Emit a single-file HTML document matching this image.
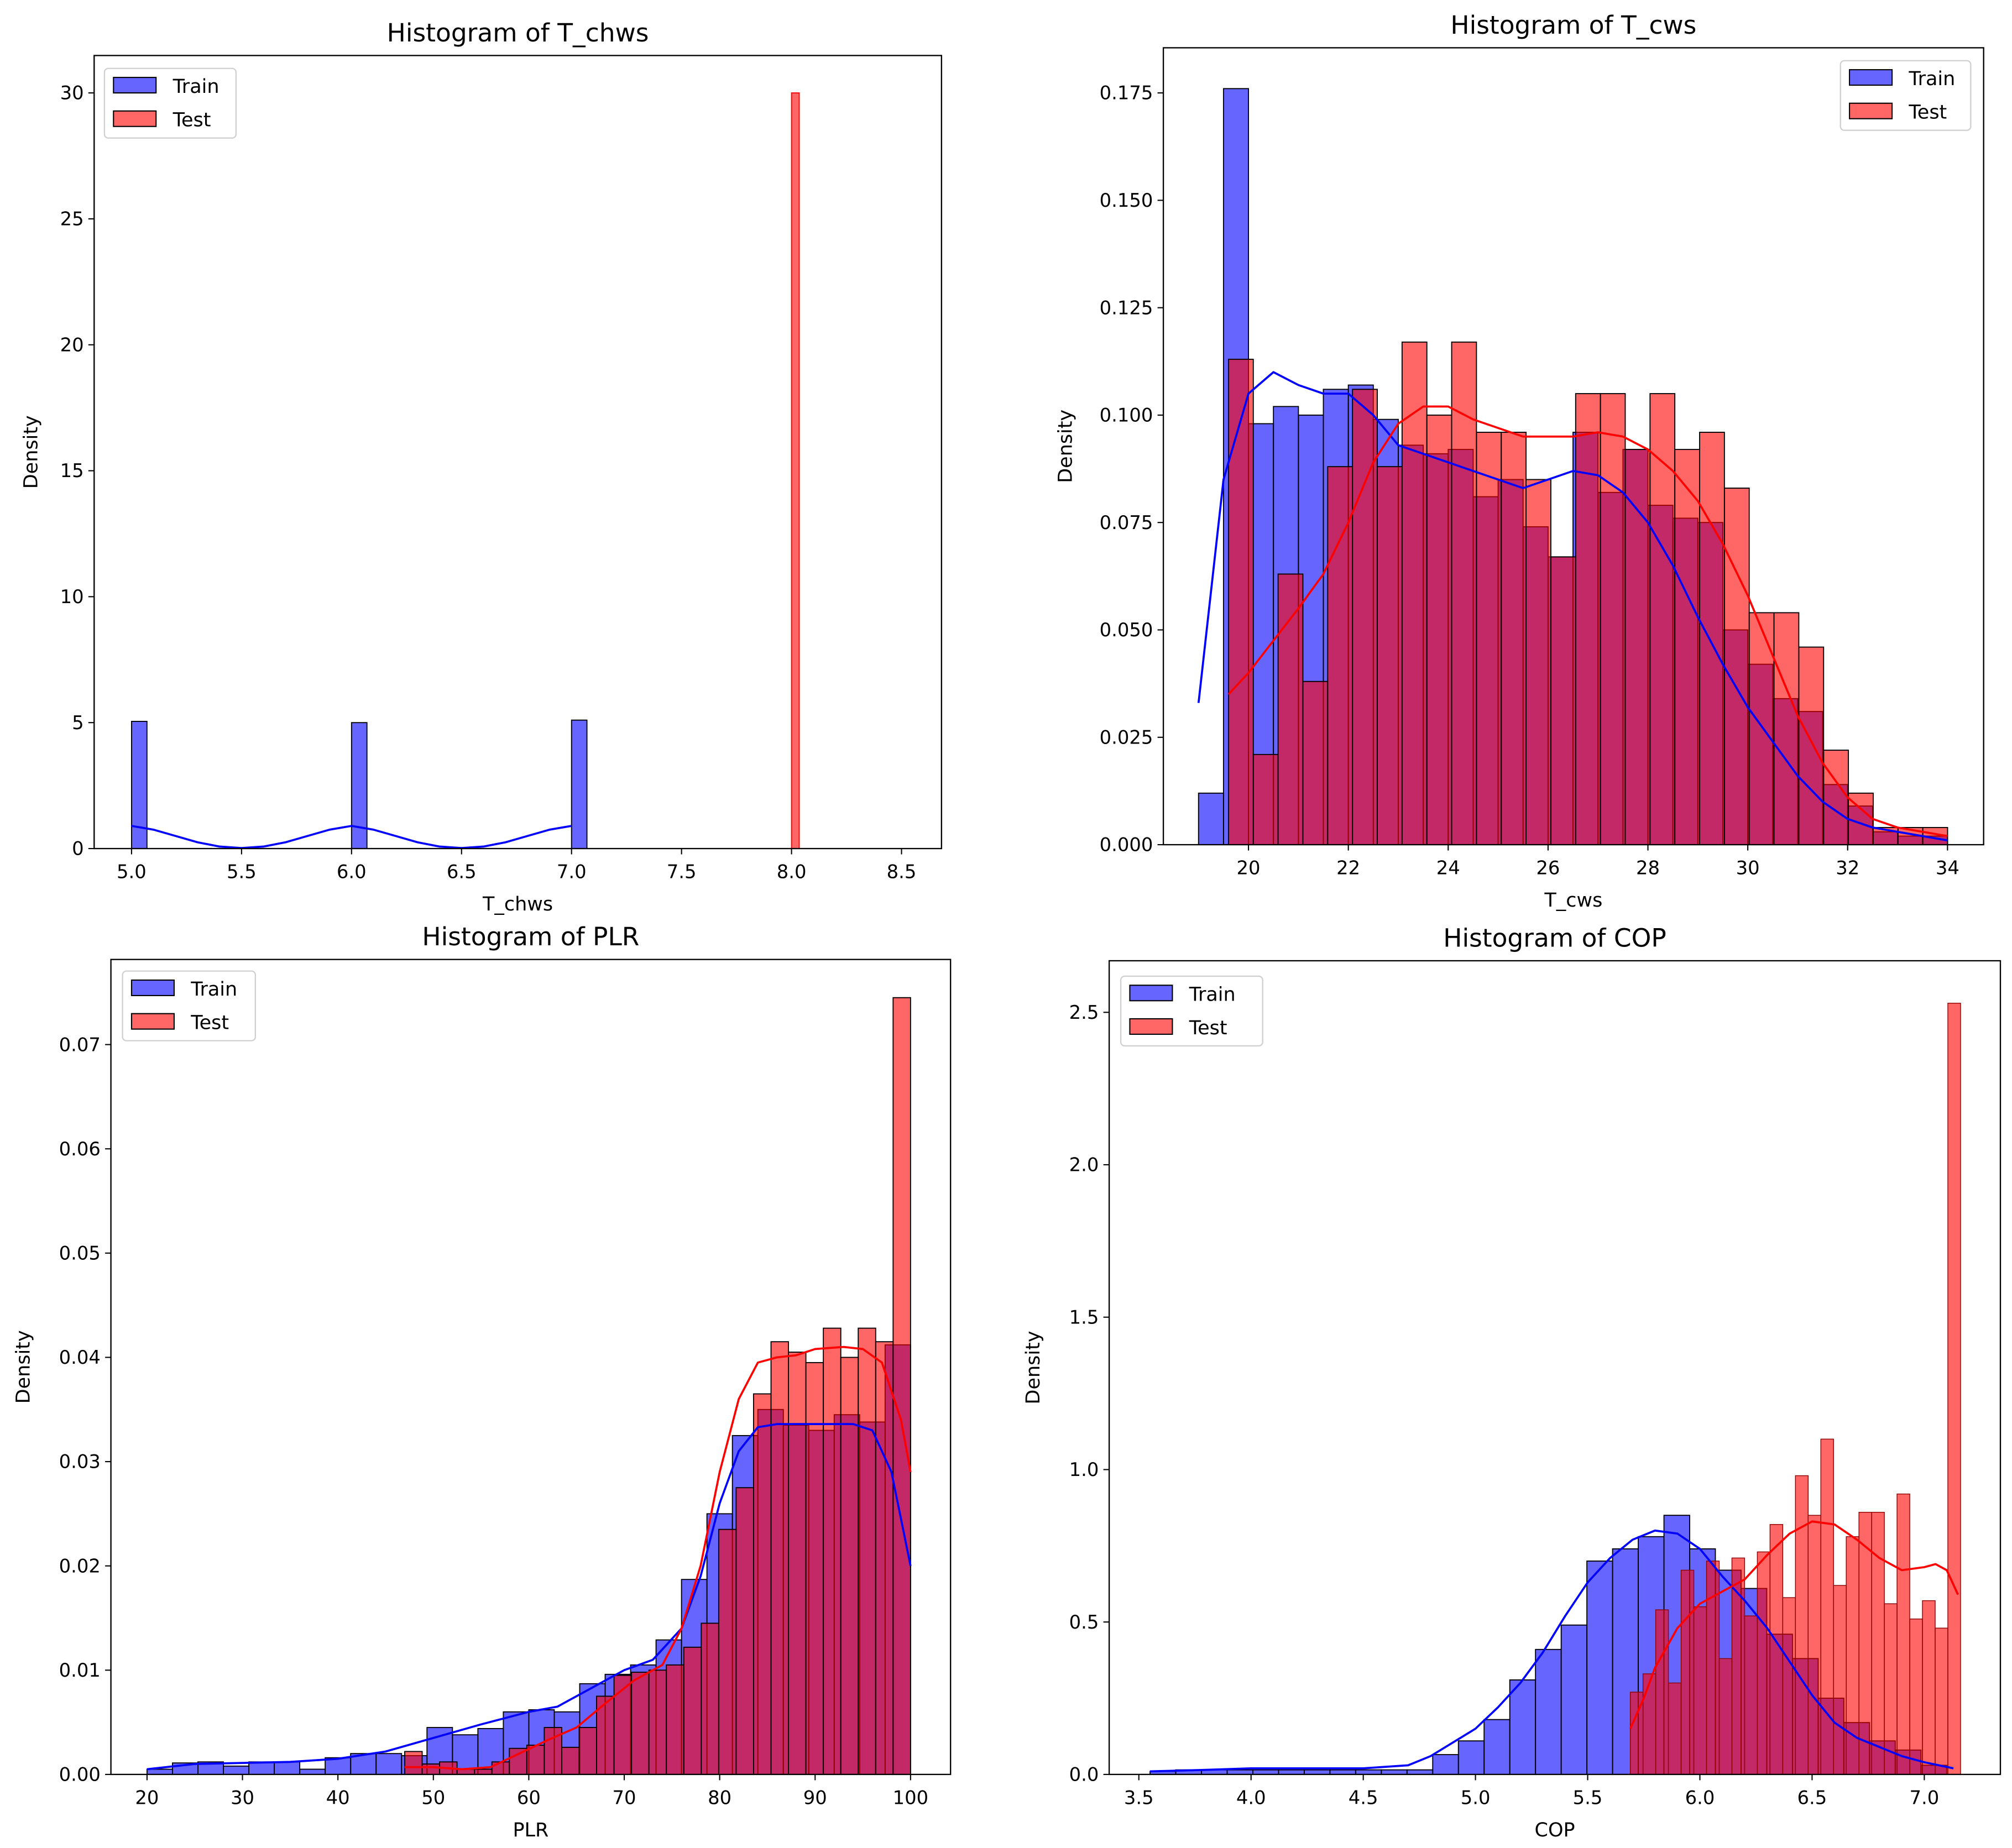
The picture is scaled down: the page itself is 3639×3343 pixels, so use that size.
<!DOCTYPE html>
<html><head><meta charset="utf-8">
<style>
html,body{margin:0;padding:0;background:#fff;}
svg{display:block;font-family:"DejaVu Sans","Liberation Sans",sans-serif;}
</style></head>
<body>
<svg id="fig" width="3639" height="3343" viewBox="0 0 1560 1433" xmlns="http://www.w3.org/2000/svg">
<rect width="1560" height="1433" fill="#fff"/>
</svg>
<script>
// ---------- Panel 1: T_chws ----------
const chwsTrainStart = [5.0, 6.0, 7.0];
const chwsTrainWidth = 0.07;
const chwsTrainValues = [5.05, 5.0, 5.1];
const chwsTestStart = [8.0];
const chwsTestWidth = 0.035;
const chwsTestValues = [30.0];
const chwsKdeX = [5.0,5.1,5.2,5.3,5.4,5.5,5.6,5.7,5.8,5.9,6.0,6.1,6.2,6.3,6.4,6.5,6.6,6.7,6.8,6.9,7.0];
const chwsKdeY = [0.9,0.75,0.5,0.25,0.08,0.02,0.08,0.25,0.5,0.75,0.9,0.75,0.5,0.25,0.08,0.02,0.08,0.25,0.5,0.75,0.9];
const chwsXTicks = [5.0,5.5,6.0,6.5,7.0,7.5,8.0,8.5];
const chwsYTicks = [0,5,10,15,20,25,30];

// ---------- Panel 2: T_cws ----------
const cwsTrainStart = 19.0, cwsTrainWidth = 0.5;
const cwsTrainValues = [0.012,0.176,0.098,0.102,0.100,0.106,0.107,0.099,0.093,0.091,0.092,0.081,0.085,0.074,0.067,0.096,0.082,0.092,0.079,0.076,0.075,0.050,0.042,0.034,0.031,0.014,0.009,0.003,0.002,0.002];
const cwsTestStart = 19.6, cwsTestWidth = 0.4966;
const cwsTestValues = [0.113,0.021,0.063,0.038,0.088,0.106,0.088,0.117,0.100,0.117,0.096,0.096,0.085,0.067,0.105,0.105,0.092,0.105,0.092,0.096,0.083,0.054,0.054,0.046,0.022,0.012,0.004,0.004,0.004];
const cwsKdeTrainX = [19,19.5,20,20.5,21,21.5,22,22.5,23,23.5,24,24.5,25,25.5,26,26.5,27,27.5,28,28.5,29,29.5,30,30.5,31,31.5,32,32.5,33,34];
const cwsKdeTrainY = [0.033,0.085,0.105,0.110,0.107,0.105,0.105,0.100,0.093,0.091,0.089,0.087,0.085,0.083,0.085,0.087,0.086,0.082,0.075,0.065,0.053,0.042,0.032,0.024,0.016,0.010,0.006,0.004,0.003,0.001];
const cwsKdeTestX = [19.6,20,21,21.5,22,22.5,23,23.5,24,24.5,25,25.5,26,26.5,27,27.5,28,28.5,29,29.5,30,30.5,31,31.5,32,32.5,33,34];
const cwsKdeTestY = [0.035,0.040,0.055,0.063,0.075,0.089,0.098,0.102,0.102,0.099,0.097,0.095,0.095,0.095,0.096,0.095,0.092,0.087,0.080,0.070,0.058,0.044,0.030,0.019,0.011,0.006,0.004,0.002];
const cwsXTicks = [20,22,24,26,28,30,32,34];
const cwsYTicks = [0,0.025,0.05,0.075,0.1,0.125,0.15,0.175];

// ---------- Panel 3: PLR ----------
const plrTrainStart = 20, plrTrainWidth = 2.6667;
const plrTrainValues = [0.0005,0.0011,0.0012,0.0008,0.0012,0.0012,0.0005,0.0016,0.0020,0.0020,0.0018,0.0045,0.0038,0.0044,0.0060,0.0062,0.0060,0.0087,0.0096,0.0105,0.0129,0.0187,0.0250,0.0325,0.0350,0.0335,0.0330,0.0345,0.0338,0.0412];
const plrTestStart = 47, plrTestWidth = 1.8276;
const plrTestValues = [0.0022,0.0010,0.0012,0.0005,0.0005,0.0012,0.0025,0.0028,0.0045,0.0026,0.0045,0.0075,0.0095,0.0098,0.0100,0.0105,0.0122,0.0145,0.0235,0.0275,0.0365,0.0415,0.0405,0.0395,0.0428,0.0400,0.0428,0.0415,0.0745];
const plrKdeTrainX = [20,25,30,35,40,45,50,55,60,63,66,70,73,76,78,80,82,84,86,90,94,96,98,100];
const plrKdeTrainY = [0.0005,0.0010,0.0011,0.0012,0.0015,0.0022,0.0035,0.0048,0.0060,0.0065,0.0080,0.0100,0.0110,0.0140,0.0190,0.0260,0.0310,0.0333,0.0336,0.0336,0.0336,0.0330,0.0290,0.0200];
const plrKdeTestX = [47,50,53,56,59,62,65,68,71,74,76,78,80,82,84,86,88,90,93,95,97,99,100];
const plrKdeTestY = [0.0007,0.0007,0.0005,0.0007,0.0020,0.0033,0.0045,0.0068,0.0090,0.0105,0.0140,0.0200,0.0290,0.0360,0.0395,0.0400,0.0402,0.0408,0.0410,0.0408,0.0395,0.0340,0.0290];
const plrXTicks = [20,30,40,50,60,70,80,90,100];
const plrYTicks = [0,0.01,0.02,0.03,0.04,0.05,0.06,0.07];

// ---------- Panel 4: COP ----------
const copTrainStart = 3.55, copTrainWidth = 0.1145;
const copTrainValues = [0.010,0.015,0.015,0.015,0.015,0.015,0.015,0.015,0.015,0.015,0.015,0.065,0.11,0.18,0.31,0.41,0.49,0.70,0.74,0.78,0.85,0.74,0.67,0.61,0.46,0.38,0.25,0.17,0.11,0.08,0.03];
const copTestStart = 5.69, copTestWidth = 0.0566;
const copTestValues = [0.27,0.33,0.54,0.30,0.67,0.55,0.70,0.38,0.71,0.52,0.73,0.82,0.58,0.98,0.85,1.10,0.62,0.78,0.86,0.86,0.56,0.92,0.51,0.57,0.48,2.53];
const copKdeTrainX = [3.55,3.8,4.0,4.5,4.7,4.8,5.0,5.1,5.2,5.3,5.4,5.5,5.6,5.7,5.8,5.9,6.0,6.1,6.2,6.3,6.4,6.5,6.6,6.7,6.8,6.9,7.0,7.13];
const copKdeTrainY = [0.01,0.015,0.02,0.02,0.03,0.06,0.15,0.22,0.30,0.40,0.52,0.63,0.71,0.77,0.80,0.79,0.74,0.65,0.57,0.48,0.37,0.26,0.17,0.12,0.09,0.06,0.04,0.02];
const copKdeTestX = [5.69,5.75,5.8,5.9,6.0,6.1,6.2,6.3,6.4,6.5,6.6,6.7,6.8,6.9,7.0,7.05,7.1,7.15];
const copKdeTestY = [0.15,0.25,0.35,0.48,0.56,0.60,0.64,0.72,0.79,0.83,0.82,0.77,0.71,0.67,0.68,0.69,0.67,0.59];
const copXTicks = [3.5,4.0,4.5,5.0,5.5,6.0,6.5,7.0];
const copYTicks = [0,0.5,1.0,1.5,2.0,2.5];

const NS = "http://www.w3.org/2000/svg";
const fig = document.getElementById('fig');
function mk(tag, attrs, parent){
  const e = document.createElementNS(NS, tag);
  for (const k in attrs) e.setAttribute(k, attrs[k]);
  (parent||fig).appendChild(e);
  return e;
}

function panel(p){
  const g = mk('g', {});
  
  
  const sx = v => p.xp0 + (v - p.xv0) * (p.xp1 - p.xp0) / (p.xv1 - p.xv0);
  const sy = v => p.B - v * (p.B - p.yp1) / p.yv1;
  const drawBars = (start, width, vals, fill, edge, ew, nm) => {
    const starts = Array.isArray(start) ? start : vals.map((_, i) => start + i * width);
    vals.forEach((v, i) => {
      const xa = sx(starts[i]), xb = sx(starts[i] + width);
      const r = mk('rect', {x: xa, y: sy(v), width: Math.max(xb - xa, 0.5), height: sy(0) - sy(v),
        fill: fill, 'fill-opacity': 0.6, stroke: edge, 'stroke-width': ew}, g);
      
      
    });
  };
  drawBars(p.trS, p.trW, p.trV, '#0000ff', '#000', 0.8, 'train');
  drawBars(p.teS, p.teW, p.teV, '#ff0000', p.teEdge || '#000', p.tew || 0.8, 'test');
  const line = (xs, ys, col, nm) => {
    const d = xs.map((x, i) => (i ? 'L' : 'M') + sx(x).toFixed(2) + ' ' + sy(ys[i]).toFixed(2)).join(' ');
    const l = mk('path', {d: d, fill: 'none', stroke: col, 'stroke-width': 1.6, 'stroke-linejoin': 'round'}, g);
    
    
  };
  if (p.kTrX) line(p.kTrX, p.kTrY, '#0000ff', 'train-kde-line');
  if (p.kTeX) line(p.kTeX, p.kTeY, '#ff0000', 'test-kde-line');
  const fr = mk('rect', {x: p.L, y: p.T, width: p.R - p.L, height: p.B - p.T, fill: 'none', stroke: '#000', 'stroke-width': 1}, g);
  
  
  p.xt.forEach(t => {
    const x = sx(t);
    mk('line', {x1: x, x2: x, y1: p.B, y2: p.B + 4.5, stroke: '#000', 'stroke-width': 0.9}, g);
    const tx = mk('text', {x: x, y: p.B + 23, 'font-size': 14.5, 'text-anchor': 'middle', fill: '#000'}, g);
    tx.textContent = t.toFixed(p.xd);
    
    
  });
  p.yt.forEach(t => {
    const y = sy(t);
    mk('line', {x1: p.L - 4.5, x2: p.L, y1: y, y2: y, stroke: '#000', 'stroke-width': 0.9}, g);
    const tx = mk('text', {x: p.L - 8, y: y + 5, 'font-size': 14.5, 'text-anchor': 'end', fill: '#000'}, g);
    tx.textContent = t.toFixed(p.yd);
    
    
  });
  const ttl = mk('text', {x: (p.L + p.R) / 2, y: p.T - 11, 'font-size': 19.5, 'text-anchor': 'middle'}, g);
  ttl.textContent = 'Histogram of ' + p.label;
  
  
  const xl = mk('text', {x: (p.L + p.R) / 2, y: p.B + 48, 'font-size': 15, 'text-anchor': 'middle'}, g);
  xl.textContent = p.label;
  
  
  const yc = (p.B + p.T) / 2;
  const yl = mk('text', {x: p.ylx, y: yc, 'font-size': 15, 'text-anchor': 'middle', transform: 'rotate(-90 ' + p.ylx + ' ' + yc + ')'}, g);
  yl.textContent = 'Density';
  
  
  const lg = mk('g', {}, g);
  
  
  mk('rect', {x: p.lx, y: p.ly, width: p.lw, height: 54, rx: 3, fill: '#fff', 'fill-opacity': 0.8, stroke: '#d0d0d0', 'stroke-width': 1}, lg);
  [['Train', '#0000ff'], ['Test', '#ff0000']].forEach((e, i) => {
    const eg = mk('g', {}, lg);
    
    
    mk('rect', {x: p.lx + 7, y: p.ly + 7 + i * 26, width: 33, height: 12, fill: e[1], 'fill-opacity': 0.6, stroke: '#000', 'stroke-width': 0.9}, eg);
    const t = mk('text', {x: p.lx + 53, y: p.ly + 19 + i * 26, 'font-size': 15}, eg);
    t.textContent = e[0];
  });
}

panel({name:'t-chws', label:'T_chws', L:73, R:730, T:43, B:658,
  xv0:5.0, xp0:102, xv1:8.5, xp1:699, yv1:30, yp1:72,
  trS:chwsTrainStart, trW:chwsTrainWidth, trV:chwsTrainValues,
  teS:chwsTestStart, teW:chwsTestWidth, teV:chwsTestValues, teEdge:'#ff0000',
  kTrX:chwsKdeX, kTrY:chwsKdeY, xt:chwsXTicks, yt:chwsYTicks, xd:1, yd:0, ylx:29, lx:81, ly:53, lw:102});
panel({name:'t-cws', label:'T_cws', L:902, R:1538, T:37, B:655,
  xv0:20, xp0:968, xv1:34, xp1:1510, yv1:0.175, yp1:72,
  trS:cwsTrainStart, trW:cwsTrainWidth, trV:cwsTrainValues,
  teS:cwsTestStart, teW:cwsTestWidth, teV:cwsTestValues,
  kTrX:cwsKdeTrainX, kTrY:cwsKdeTrainY, kTeX:cwsKdeTestX, kTeY:cwsKdeTestY,
  xt:cwsXTicks, yt:cwsYTicks, xd:0, yd:3, ylx:831, lx:1427, ly:47, lw:101});
panel({name:'plr', label:'PLR', L:86, R:737, T:744, B:1376,
  xv0:20, xp0:114, xv1:100, xp1:706, yv1:0.07, yp1:810,
  trS:plrTrainStart, trW:plrTrainWidth, trV:plrTrainValues,
  teS:plrTestStart, teW:plrTestWidth, teV:plrTestValues,
  kTrX:plrKdeTrainX, kTrY:plrKdeTrainY, kTeX:plrKdeTestX, kTeY:plrKdeTestY,
  xt:plrXTicks, yt:plrYTicks, xd:0, yd:2, ylx:23, lx:95, ly:753, lw:103});
panel({name:'cop', label:'COP', L:860, R:1551, T:745, B:1376,
  xv0:3.5, xp0:883, xv1:7.0, xp1:1492, yv1:2.5, yp1:785,
  trS:copTrainStart, trW:copTrainWidth, trV:copTrainValues,
  teS:copTestStart, teW:copTestWidth, teV:copTestValues, teEdge:'#8b0000', tew:0.6,
  kTrX:copKdeTrainX, kTrY:copKdeTrainY, kTeX:copKdeTestX, kTeY:copKdeTestY,
  xt:copXTicks, yt:copYTicks, xd:1, yd:1, ylx:806, lx:869, ly:757, lw:110});
</script>
</body></html>
